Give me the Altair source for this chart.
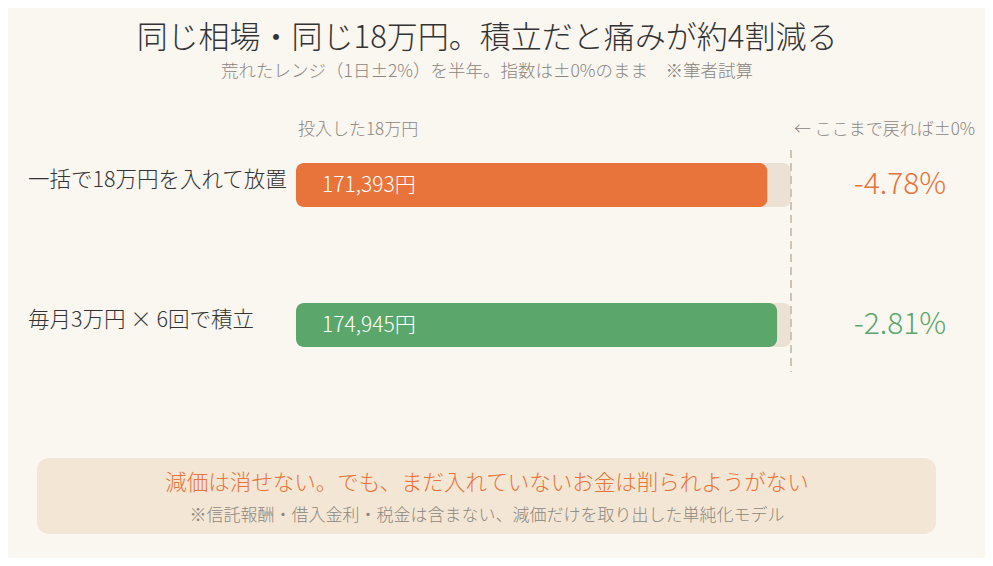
import altair as alt
import pandas as pd

# ---- data ----
labels = ["一括で18万円を入れて放置", "毎月3万円 × 6回で積立"]
values = [171393, 174945]
value_labels = ["171,393円", "174,945円"]
pct_labels = ["-4.78%", "-2.81%"]
colors = ["#e8743b", "#5ba66b"]
invested = 180000

title = "同じ相場・同じ18万円。積立だと痛みが約4割減る"
subtitle = "荒れたレンジ（1日±2%）を半年。指数は±0%のまま　※筆者試算"
left_note = "投入した18万円"
right_note = "← ここまで戻れば±0%"
box_main = "減価は消せない。でも、まだ入れていないお金は削られようがない"
box_sub = "※信託報酬・借入金利・税金は含まない、減価だけを取り出した単純化モデル"

FONT = "Noto Sans CJK JP"
BG = "#faf6f0"

df = pd.DataFrame({
    "label": labels,
    "value": values,
    "vlabel": value_labels,
    "pct": pct_labels,
    "color": colors,
    "full": [invested] * len(labels),
    "zero": [0] * len(labels),
})

W, H = 977, 550
xscale = alt.Scale(domain=[0, invested], range=[288, 783], zero=False, nice=False)
yscale = alt.Scale(domain=labels, range=[155, 339], paddingInner=0.6857, paddingOuter=0)

base = alt.Chart(df)
X = alt.X("zero:Q", scale=xscale, axis=None)
Y = alt.Y("label:N", scale=yscale, axis=None, sort=labels)

track = base.mark_bar(color="#ebe2d5", cornerRadius=8).encode(
    x=X, x2="full:Q", y=Y
)
bars = base.mark_bar(cornerRadius=8).encode(
    x=X, x2="value:Q", y=Y,
    color=alt.Color("color:N", scale=None),
)
vtext = base.mark_text(align="left", baseline="middle", font=FONT, fontSize=21,
                       fontWeight=300, color="white", dx=26, dy=1).encode(
    x=X, y=Y, text="vlabel:N"
)
ltext = base.mark_text(align="left", baseline="middle", font=FONT, fontSize=21.5,
                       fontWeight=300, color="#333333", dy=-4).encode(
    x=alt.value(20), y=Y, text="label:N"
)
ptext = base.mark_text(align="center", baseline="middle", font=FONT, fontSize=30,
                       fontWeight=300, dy=0).encode(
    x=alt.value(892), y=Y, text="pct:N",
    color=alt.Color("color:N", scale=None),
)

rule_df = pd.DataFrame({"x": [invested]})
rule = alt.Chart(rule_df).mark_rule(color="#cdc4b8", strokeWidth=2, strokeDash=[8, 5]).encode(
    x=alt.X("x:Q", scale=xscale, axis=None),
    y=alt.value(142), y2=alt.value(364),
)

ann_df = pd.DataFrame({
    "t": [title, subtitle, left_note, right_note],
    "x": [479, 479, 290, 786],
    "y": [31, 64, 122, 122],
    "size": [31, 17.5, 17, 17],
    "c": ["#333333", "#8c867f", "#8c867f", "#8c867f"],
    "align": ["center", "center", "left", "left"],
})
ann_layers = []
for i, r in ann_df.iterrows():
    ann_layers.append(
        alt.Chart(ann_df.iloc[[i]]).mark_text(
            align=r["align"], baseline="middle", font=FONT,
            fontSize=float(r["size"]), color=r["c"], fontWeight=300
        ).encode(x=alt.value(float(r["x"])), y=alt.value(float(r["y"])), text="t:N")
    )

box_df = pd.DataFrame({"a": [0]})
box = alt.Chart(box_df).mark_rect(color="#f3e6d4", cornerRadius=12).encode(
    x=alt.value(29), x2=alt.value(928), y=alt.value(450), y2=alt.value(526)
)
box_t = pd.DataFrame({"t": [box_main, box_sub]})
bt1 = alt.Chart(box_t.iloc[[0]]).mark_text(font=FONT, fontSize=21.5, color="#e8743b",
                                           fontWeight=300,
                                           align="center", baseline="middle").encode(
    x=alt.value(479), y=alt.value(476), text="t:N")
bt2 = alt.Chart(box_t.iloc[[1]]).mark_text(font=FONT, fontSize=17, color="#8c867f",
                                           fontWeight=300,
                                           align="center", baseline="middle").encode(
    x=alt.value(479), y=alt.value(508), text="t:N")

chart = alt.layer(
    track, bars, rule, vtext, ltext, ptext, *ann_layers, box, bt1, bt2
).properties(
    width=W, height=H, background=BG, padding=0,
    autosize=alt.AutoSizeParams(type="none"),
).configure_view(stroke=None)

chart.save("out.html", embed_options={"renderer": "svg", "actions": False})
